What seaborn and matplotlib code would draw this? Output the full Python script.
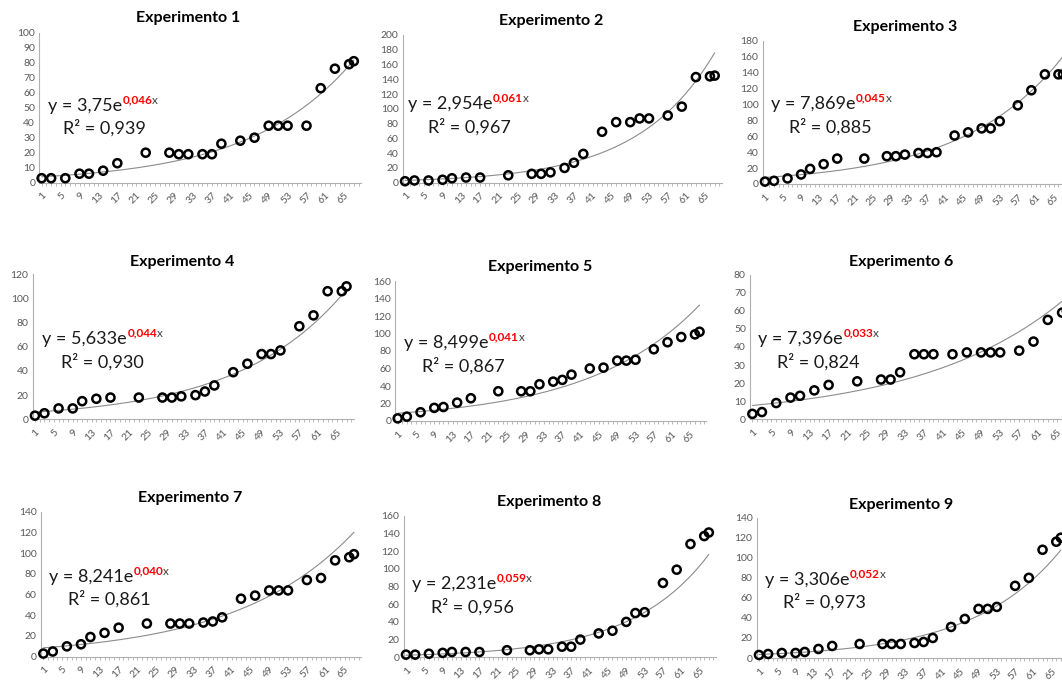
import numpy as np
import pandas as pd
import matplotlib
matplotlib.use("Agg")
import matplotlib.pyplot as plt
import seaborn as sns

# ---------------- data ----------------
x_days = [1, 3, 6, 9, 11, 14, 17, 23, 28, 30, 32, 35, 37, 39, 43, 46, 49, 51, 53, 57, 60, 63, 66, 67]

exp1 = [3, 3, 3, 6, 6, 8, 13, 20, 20, 19, 19, 19, 19, 26, 28, 30, 38, 38, 38, 38, 63, 76, 79, 81]
exp2 = [2, 3, 3, 4, 6, 7, 7, 10, 12, 12, 14, 20, 27, 39, 69, 82, 82, 87, 87, 91, 103, 143, 144, 145]
exp3 = [3, 4, 7, 12, 19, 25, 32, 32, 35, 35, 37, 39, 39, 40, 61, 65, 70, 70, 79, 99, 118, 138, 138, 138]
exp4 = [3, 5, 9, 9, 15, 17, 18, 18, 18, 18, 19, 20, 23, 28, 39, 46, 54, 54, 57, 77, 86, 106, 106, 110]
exp5 = [3, 5, 10, 15, 16, 21, 26, 34, 34, 34, 42, 45, 47, 53, 60, 61, 69, 69, 70, 82, 90, 96, 99, 102]
exp6 = [3, 4, 9, 12, 13, 16, 19, 21, 22, 22, 26, 36, 36, 36, 36, 37, 37, 37, 37, 38, 43, 55, 59, 60]
exp7 = [3, 5, 10, 12, 19, 23, 28, 32, 32, 32, 32, 33, 34, 38, 56, 59, 64, 64, 64, 74, 76, 93, 96, 99]
exp8 = [3, 3, 4, 5, 6, 6, 6, 8, 8, 9, 9, 12, 12, 20, 27, 30, 40, 50, 51, 84, 99, 128, 137, 141]
exp9 = [3, 4, 5, 5, 6, 9, 12, 14, 14, 14, 14, 15, 16, 20, 31, 39, 49, 49, 51, 72, 80, 108, 116, 120]
series = [exp1, exp2, exp3, exp4, exp5, exp6, exp7, exp8, exp9]

titles = ["Experimento 1", "Experimento 2", "Experimento 3",
          "Experimento 4", "Experimento 5", "Experimento 6",
          "Experimento 7", "Experimento 8", "Experimento 9"]
coef_a = [3.75, 2.954, 7.869, 5.633, 8.499, 7.396, 8.241, 2.231, 3.306]
coef_b = [0.046, 0.061, 0.045, 0.044, 0.041, 0.033, 0.040, 0.059, 0.052]
r_squared = [0.939, 0.967, 0.885, 0.930, 0.867, 0.824, 0.861, 0.956, 0.973]
y_max = [100, 200, 180, 120, 160, 80, 140, 160, 140]
y_step = [10, 20, 20, 20, 20, 10, 20, 20, 20]
x_tick_labels = [1, 5, 9, 13, 17, 21, 25, 29, 33, 37, 41, 45, 49, 53, 57, 61, 65]
n_categories = 68

# ---------------- layout (pixels) ----------------
W, H = 1062, 680
# left, width, top(y of max), bottom(y of 0)
axes_px = [(39.3, 321.6, 32.7, 182.7), (402.7, 319, 35, 182.7), (762.7, 307, 41, 184),
           (32.6, 321, 274.3, 419.3), (395.4, 311, 281, 421), (750, 324, 274.7, 419.3),
           (41, 320, 511.7, 656.7), (403.7, 312, 515.7, 657.3), (756.7, 311, 517.7, 658)]
title_px = [(188, 18), (551, 21), (905, 27), (182, 262), (540, 267), (901, 262),
            (190, 498), (549, 502), (901, 505)]
eq_px = [(48, 106), (408, 104), (771, 104), (42, 339), (404, 343), (758, 339),
         (49, 577), (412, 584), (765, 580)]
r2_px = [(63, 128), (428, 127), (789, 127), (61, 362), (422, 366), (777, 362),
         (68, 599), (431, 607), (783, 602)]

sns.set_style("white")
plt.rcParams["font.family"] = ["Lato", "DejaVu Sans"]

fig = plt.figure(figsize=(W / 100, H / 100), dpi=100)
fig.patch.set_facecolor("white")

axis_col = "#B0B0B0"
label_col = "#595959"

for i in range(9):
    left, width, top, bottom = axes_px[i]
    ax = fig.add_axes([left / W, 1 - bottom / H, width / W, (bottom - top) / H])
    ax.patch.set_alpha(0)

    df = pd.DataFrame({"x": x_days, "y": series[i]})
    xt = np.linspace(min(x_days), max(x_days), 300)
    trend = pd.DataFrame({"x": xt, "y": coef_a[i] * np.exp(coef_b[i] * xt)})
    sns.lineplot(data=trend, x="x", y="y", ax=ax, color="#8C8C8C", linewidth=0.8, zorder=2)
    sns.scatterplot(data=df, x="x", y="y", ax=ax, marker="o", s=34,
                    facecolor="none", edgecolor="black", linewidth=1.8,
                    clip_on=False, zorder=3)

    ax.set_xlim(0.5, n_categories + 0.5)
    ax.set_ylim(0, y_max[i])
    ax.set_yticks(np.arange(0, y_max[i] + 1, y_step[i]))
    ax.set_xticks(x_tick_labels)
    ax.set_xticklabels([str(v) for v in x_tick_labels], rotation=45, ha="right",
                       rotation_mode="anchor")
    ax.set_xticks(np.arange(1, n_categories + 1), minor=True)
    ax.set_xlabel("")
    ax.set_ylabel("")
    for s in ["top", "right"]:
        ax.spines[s].set_visible(False)
    for s in ["left", "bottom"]:
        ax.spines[s].set_color(axis_col)
        ax.spines[s].set_linewidth(0.8)
    ax.tick_params(axis="both", which="both", colors=axis_col, labelcolor=label_col,
                   labelsize=7.5, length=2.5, width=0.6, direction="out")
    ax.tick_params(axis="x", which="major", pad=3.5)
    ax.tick_params(axis="y", pad=3, length=0)
    ax.tick_params(axis="x", bottom=True, which="both")

    # title
    tx, ty = title_px[i]
    fig.text(tx / W, 1 - ty / H, titles[i], ha="center", va="center",
             fontsize=11.5, fontweight="bold", color="black")

    # equation
    ex, ey = eq_px[i]
    a_txt = f"{coef_a[i]:g}".replace(".", ",")
    b_txt = f"{coef_b[i]:.3f}".replace(".", ",")
    r_txt = f"{r_squared[i]:.3f}".replace(".", ",")
    t1 = fig.text(ex / W, 1 - ey / H, f"y = {a_txt}e", ha="left", va="center",
                  fontsize=13, color="#1a1a1a")
    t2 = ax.annotate(b_txt, xy=(1.0, 0.52), xycoords=t1, xytext=(0.5, 0),
                     textcoords="offset points", ha="left", va="bottom",
                     fontsize=8.5, fontweight="bold", color="#FF0000",
                     annotation_clip=False)
    ax.annotate("x", xy=(1.0, 0.0), xycoords=t2, xytext=(-0.5, 0),
                textcoords="offset points", ha="left", va="bottom",
                fontsize=8.5, color="#404040", annotation_clip=False)
    rx, ry = r2_px[i]
    fig.text(rx / W, 1 - ry / H, f"R\u00b2 = {r_txt}", ha="left", va="center",
             fontsize=13, color="#1a1a1a")

fig.savefig("out.png", dpi=100, facecolor="white")
